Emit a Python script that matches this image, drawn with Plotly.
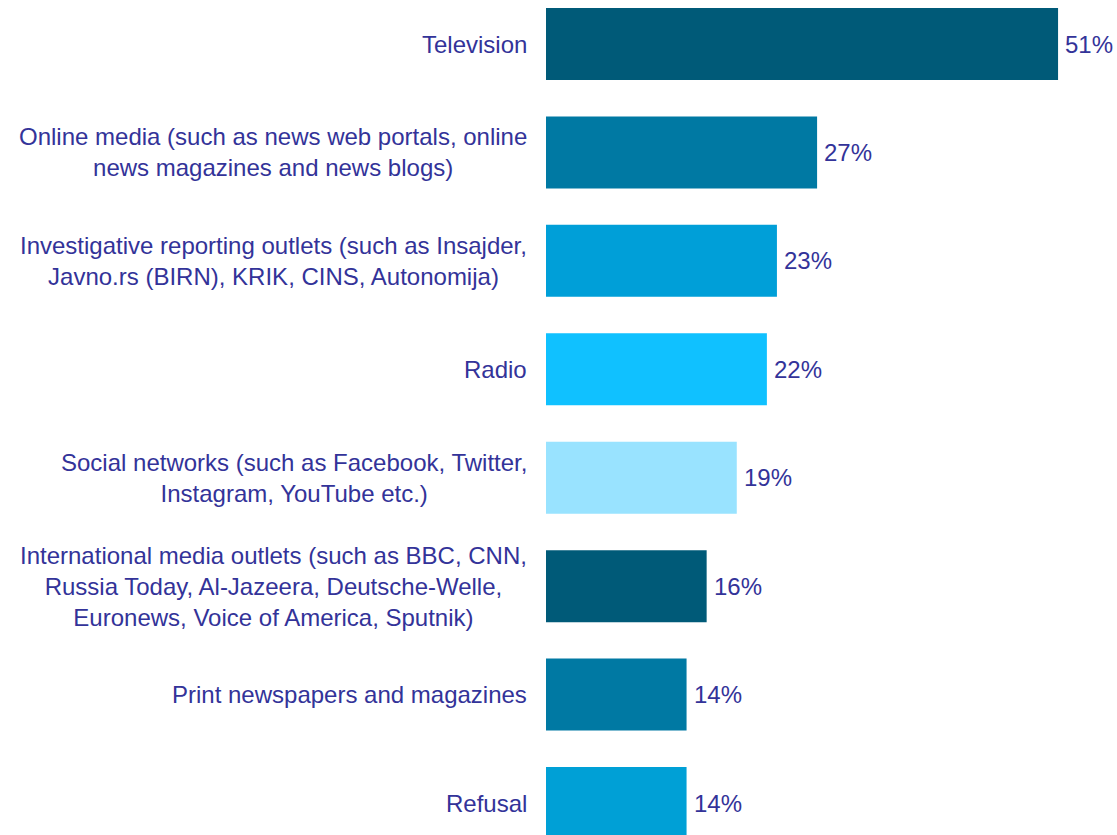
import plotly.graph_objects as go

# Share of respondents naming each source of information (%)
categories = [
    "Television",
    "Online media (such as news web portals, online<br>news magazines and news blogs)",
    "Investigative reporting outlets (such as Insajder,<br>Javno.rs (BIRN), KRIK, CINS, Autonomija)",
    "Radio",
    "Social networks (such as Facebook, Twitter,<br>Instagram, YouTube etc.)",
    "International media outlets (such as BBC, CNN,<br>Russia Today, Al-Jazeera, Deutsche-Welle,<br>Euronews, Voice of America, Sputnik)",
    "Print newspapers and magazines",
    "Refusal",
]
values = [51, 27, 23, 22, 19, 16, 14, 14]
bar_colors = ["#005A78", "#0079A3", "#009FD8", "#10C1FF",
              "#99E3FF", "#005A78", "#0079A3", "#00A0D6"]

TEXT_COLOR = "#333399"
FONT = "Liberation Sans, Arial, sans-serif"
FONT_SIZE = 24

positions = list(range(len(categories)))

fig = go.Figure(
    go.Bar(
        x=values,
        y=positions,
        orientation="h",
        width=0.664,
        marker=dict(color=bar_colors, line=dict(width=0)),
        hoverinfo="skip",
    )
)

# Category labels, centered lines, right edge just left of the bars
for pos, label in zip(positions, categories):
    fig.add_annotation(
        x=0, y=pos, xref="x", yref="y",
        text=label, showarrow=False,
        xanchor="right", yanchor="middle", align="center",
        xshift=-17,
        font=dict(family=FONT, size=FONT_SIZE, color=TEXT_COLOR),
    )

# Value labels to the right of each bar
for pos, v in zip(positions, values):
    fig.add_annotation(
        x=v, y=pos, xref="x", yref="y",
        text=f"{v}%", showarrow=False,
        xanchor="left", yanchor="middle",
        xshift=5,
        font=dict(family=FONT, size=FONT_SIZE, color=TEXT_COLOR),
    )

fig.update_layout(
    width=1117,
    height=835,
    margin=dict(l=546, r=0, t=0, b=0),
    paper_bgcolor="white",
    plot_bgcolor="white",
    showlegend=False,
    font=dict(family=FONT, size=FONT_SIZE, color=TEXT_COLOR),
    xaxis=dict(range=[0, 56.87], visible=False, fixedrange=True),
    yaxis=dict(range=[7.2951, -0.4058], visible=False, fixedrange=True),
)

fig.write_html("out.html")
